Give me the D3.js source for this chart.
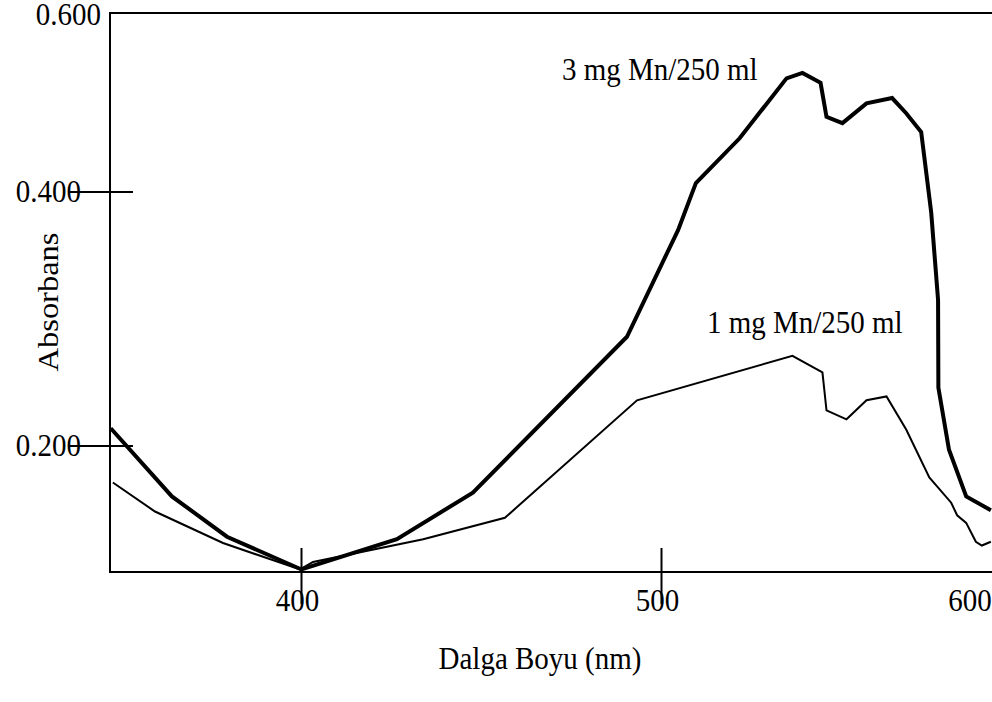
<!DOCTYPE html>
<html>
<head>
<meta charset="utf-8">
<script src="https://cdn.jsdelivr.net/npm/d3@7"></script>
<style>
    body { margin: 0; background: #fff; }
    svg { display: block; font-family: "Liberation Serif", "Times New Roman", serif; }
</style>
</head>
<body>
<div id="chart"></div>
<script>
// Wavelength (nm) and absorbance
const wave3mg = [347, 364, 379.3, 400, 426.5, 447.6, 490.4, 505.3, 511, 525, 540, 545.1, 550.9, 552.8, 557.9, 565.6, 573.8, 578.3, 583.1, 586.3, 588.5, 588.6, 592, 597.5, 605.4];
const abs3mg = [0.214, 0.160, 0.128, 0.102, 0.126, 0.163, 0.286, 0.370, 0.410, 0.460, 0.527, 0.533, 0.522, 0.484, 0.477, 0.499, 0.505, 0.488, 0.467, 0.384, 0.315, 0.246, 0.197, 0.160, 0.149];

const wave1mg = [347.6, 359.3, 378.2, 399.6, 403.2, 433.8, 456.5, 493.2, 541.9, 551.5, 552.8, 559.2, 565.6, 572, 578.3, 585.7, 592.7, 594.6, 597.5, 600.6, 602.5, 605.4];
const abs1mg = [0.171, 0.148, 0.123, 0.102, 0.108, 0.126, 0.143, 0.236, 0.271, 0.258, 0.228, 0.221, 0.236, 0.239, 0.213, 0.175, 0.155, 0.145, 0.139, 0.124, 0.121, 0.124];

const xTickValues = [400, 500];
const xLabelValues = [400, 500, 600];
const yTickValues = [0.2, 0.4];
const yLabelValues = [0.2, 0.4, 0.6];

const width = 992, height = 702;
const fontSize = "29px";
const stretch = 1.1; // the scan is a little taller than wide

const svg = d3.select("#chart")
    .append("svg")
    .attr("width", width)
    .attr("height", height);

// the original axes are not evenly spaced, so use piecewise scales
const x = d3.scaleLinear()
    .domain([400, 500, 600])
    .range([301.5, 661.5, 974]);

const y = d3.scaleLinear()
    .domain([0.1, 0.2, 0.4, 0.6])
    .range([572, 446, 192, 13]);

const plotLeft = 110, plotRight = 1000;
const plotTop = y(0.6), plotBottom = y(0.1);

// frame
svg.append("path")
    .attr("d", `M${plotRight},${plotTop}H${plotLeft}V${plotBottom}H${plotRight}`)
    .attr("fill", "none")
    .attr("stroke", "#000")
    .attr("stroke-width", 2);

// y ticks cross the axis
svg.selectAll(".ytick").data(yTickValues).enter()
    .append("line")
    .attr("class", "ytick")
    .attr("x1", 70).attr("x2", 133)
    .attr("y1", d => y(d)).attr("y2", d => y(d))
    .attr("stroke", "#000")
    .attr("stroke-width", 2);

// y labels
svg.selectAll(".ylabel").data(yLabelValues).enter()
    .append("text")
    .attr("class", "ylabel")
    .attr("transform", d => `translate(${d === 0.6 ? 101 : 81},${y(d) + (d === 0.6 ? 12 : 10)}) scale(1,${stretch})`)
    .attr("text-anchor", "end")
    .style("font-size", fontSize)
    .text(d => d3.format(".3f")(d));

// x ticks
svg.selectAll(".xtick").data(xTickValues).enter()
    .append("line")
    .attr("class", "xtick")
    .attr("x1", d => x(d)).attr("x2", d => x(d))
    .attr("y1", 548).attr("y2", 604)
    .attr("stroke", "#000")
    .attr("stroke-width", 2);

// x labels
svg.selectAll(".xlabel").data(xLabelValues).enter()
    .append("text")
    .attr("class", "xlabel")
    .attr("transform", d => `translate(${x(d) - 4},611) scale(1,${stretch})`)
    .attr("text-anchor", "middle")
    .style("font-size", fontSize)
    .text(d => d);

// curves
const line = d3.line()
    .x(d => x(d[0]))
    .y(d => y(d[1]));

svg.append("path")
    .datum(wave3mg.map((w, i) => [w, abs3mg[i]]))
    .attr("d", line)
    .attr("fill", "none")
    .attr("stroke", "#000")
    .attr("stroke-width", 4);

svg.append("path")
    .datum(wave1mg.map((w, i) => [w, abs1mg[i]]))
    .attr("d", line)
    .attr("fill", "none")
    .attr("stroke", "#000")
    .attr("stroke-width", 2);

// series labels
svg.append("text")
    .attr("transform", `translate(562,80) scale(1,${stretch})`)
    .style("font-size", fontSize)
    .text("3 mg Mn/250 ml");

svg.append("text")
    .attr("transform", `translate(707,333) scale(1,${stretch})`)
    .style("font-size", fontSize)
    .text("1 mg Mn/250 ml");

// axis titles
svg.append("text")
    .attr("transform", `translate(540,669) scale(1,${stretch})`)
    .attr("text-anchor", "middle")
    .style("font-size", fontSize)
    .text("Dalga Boyu (nm)");

svg.append("text")
    .attr("transform", `translate(58,302) rotate(-90) scale(1.12,1)`)
    .attr("text-anchor", "middle")
    .style("font-size", fontSize)
    .text("Absorbans");
</script>
</body>
</html>
